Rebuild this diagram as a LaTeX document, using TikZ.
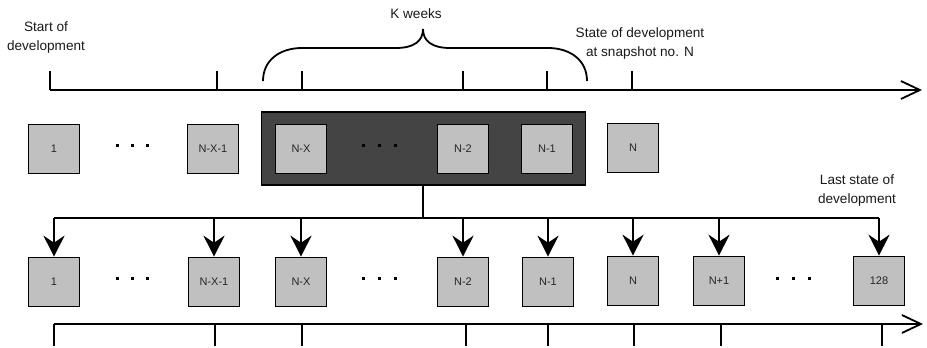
\documentclass[tikz,border=0pt]{standalone}
\usepackage{fontspec}
\setmainfont{Liberation Sans}
\usetikzlibrary{arrows.meta}
\definecolor{boxgray}{HTML}{C0C0C0}
\definecolor{darkfill}{HTML}{444444}
\begin{document}
\begin{tikzpicture}[x=1pt,y=-1pt,
  box/.style={draw=black, line width=1.6pt, fill=boxgray, minimum width=51pt, minimum height=49pt,
    inner sep=0pt, font=\fontsize{11}{13}\selectfont, text=black!85},
  group/.style={draw=black, line width=1.2pt, fill=darkfill, minimum width=324pt, minimum height=73pt, inner sep=0pt},
  note/.style={font=\fontsize{13.6}{19}\selectfont, align=center, inner sep=0pt, text=black!90},
  axis/.style={line width=1.8pt, -{Straight Barb[length=19pt,width=18pt,line width=1.8pt]}},
  tick/.style={line width=1.8pt},
  feed/.style={line width=1.8pt, -{Stealth[length=21pt,width=21pt,inset=7pt]}},
  bus/.style={line width=2pt},
  dotsq/.style={fill=black, inner sep=0pt, minimum size=3pt, draw=none},
]
\useasboundingbox (0,0) rectangle (927,348);

% top axis
\coordinate (ta0) at (50,90);
\coordinate (ta1) at (922,90);
\draw[axis] (ta0) -- (ta1);
\foreach \x in {50,217,302,463,547,632} \draw[tick] (\x,71) -- (\x,90);

% brace
\draw[line width=1.8pt] (263,81) .. controls (263,60) and (280,48) .. (302,48) -- (396,48)
  .. controls (414,48) and (423,41) .. (423,29)
  .. controls (423,41) and (432,48) .. (450,48) -- (548,48)
  .. controls (570,48) and (587,60) .. (587,81);

% notes
\node[note] (start) at (46,37.5) {Start of\\development};
\node[note] (kweeks) at (416,14) {K weeks};
\node[note] (snap) at (640,43) {State of development\\at snapshot no. N};
\node[note] (last) at (857,190) {Last state of\\development};

% top row
\node[group] (grp) at (423.5,148.5) {};
\node[box] (t1) at (54,149) {1};
\node[box] (tnx1) at (213,149) {N-X-1};
\node[box] (tnx) at (301,149) {N-X};
\node[box] (tn2) at (463,149) {N-2};
\node[box] (tn1) at (547,149) {N-1};
\node[box] (tn) at (633,148) {N};
\foreach \x [count=\i] in {117,132,147} \node[dotsq] (da\i) at (\x,145) {};
\foreach \x [count=\i] in {363,379,395} \node[dotsq] (db\i) at (\x,145) {};

% bottom row
\node[box] (b1) at (54,282) {1};
\node[box] (bnx1) at (214,282) {N-X-1};
\node[box] (bnx) at (301,282) {N-X};
\node[box] (bn2) at (463,282) {N-2};
\node[box] (bn1) at (548,282) {N-1};
\node[box] (bn) at (633,281) {N};
\node[box] (bnp1) at (719,281) {N+1};
\node[box] (b128) at (879,281) {128};
\foreach \x [count=\i] in {117,132,147} \node[dotsq] (dc\i) at (\x,278) {};
\foreach \x [count=\i] in {363,379,395} \node[dotsq] (dd\i) at (\x,278) {};
\foreach \x [count=\i] in {777,793,809} \node[dotsq] (de\i) at (\x,278) {};

% bus
\coordinate (busc) at (423,218);
\coordinate (drop) at ([xshift=-0.5pt]grp.south);
\draw[bus] (drop) -- (drop |- busc);
\draw[bus] (b1.north |- busc) -- (b128.north |- busc);
\foreach \n in {b1,bnx1,bnx,bn2,bn1,bn,bnp1,b128}
  \draw[feed] (\n.north |- busc) -- (\n.north);

% bottom axis
\coordinate (ba0) at (54,324);
\coordinate (ba1) at (923,324);
\draw[axis] (ba0) -- (ba1);
\foreach \x in {54,215,302,466,548,634,721,882} \draw[tick] (\x,324) -- (\x,346);
\end{tikzpicture}
\end{document}
